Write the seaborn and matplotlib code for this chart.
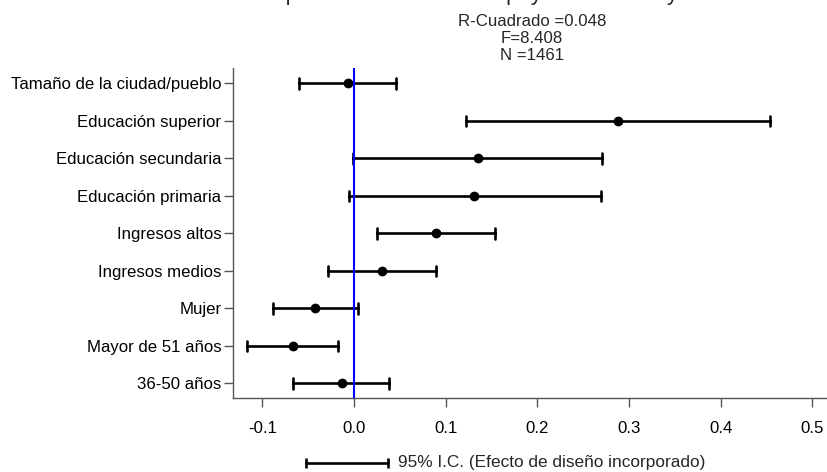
import matplotlib
matplotlib.use("Agg")
import matplotlib.pyplot as plt
from matplotlib.lines import Line2D
import pandas as pd
import seaborn as sns

# Coefficients and 95% CIs
labels = ["Tamaño de la ciudad/pueblo", "Educación superior", "Educación secundaria",
          "Educación primaria", "Ingresos altos", "Ingresos medios", "Mujer",
          "Mayor de 51 años", "36-50 años"]
coef = [-0.007, 0.288, 0.135, 0.131, 0.089, 0.030, -0.043, -0.067, -0.013]
lower = [-0.060, 0.122, -0.001, -0.006, 0.025, -0.028, -0.088, -0.117, -0.067]
upper = [0.046, 0.454, 0.271, 0.269, 0.154, 0.089, 0.004, -0.017, 0.038]
xticks = [-0.1, 0.0, 0.1, 0.2, 0.3, 0.4, 0.5]
stats_text = "R-Cuadrado =0.048\nF=8.408\nN =1461"
title = "Impacto de factores en apoyo al sistema y la confianza"
legend_text = "95% I.C. (Efecto de diseño incorporado)"

# long table: lower / estimate / upper per row, so median = estimate and
# the 100% percentile interval = the CI
rows = []
for lab, lo, c, hi in zip(labels, lower, coef, upper):
    for v in (lo, c, hi):
        rows.append({"variable": lab, "valor": v})
df = pd.DataFrame(rows)

sns.set_style("white")
plt.rcParams["font.family"] = ["Liberation Sans", "DejaVu Sans"]
fs = 12.1

fig = plt.figure(figsize=(8.28, 4.72), dpi=100)
ax = fig.add_axes([0.2814, 0.1561, 0.7186, 0.6992])

sns.pointplot(data=df, x="valor", y="variable", order=labels,
              estimator="median", errorbar=("pi", 100),
              color="black", linestyle="none", marker="o", markersize=5,
              capsize=0.28, err_kws={"linewidth": 1.9}, ax=ax)

ax.axvline(0, color="#0000ff", lw=1.5, zorder=5)

ax.set_xlim(-0.132, 0.517)
ax.set_ylim(8.4, -0.4)
ax.set_xticks(xticks)
ax.set_xticklabels([f"{t:.1f}" for t in xticks])
ax.set_xlabel("")
ax.set_ylabel("")
ax.tick_params(axis="both", labelsize=fs, length=6.3, width=1, color="#555555",
               labelcolor="black", bottom=True, left=True)
ax.tick_params(axis="x", pad=10)
ax.tick_params(axis="y", pad=2)
for side in ["top", "right"]:
    ax.spines[side].set_visible(False)
for side in ["left", "bottom"]:
    ax.spines[side].set_color("#555555")
    ax.spines[side].set_linewidth(1)

# header (title sits mostly above the top edge, as in the reference)
fig.text(0.6425, 1.0, title, ha="center", va="baseline", fontsize=16)
fig.text(0.6425, 1 - 38.5 / 472, stats_text, ha="center", va="center",
         fontsize=fs, linespacing=1.2)

# CI legend at the bottom
y_leg = 1 - 463 / 472
fig.add_artist(Line2D([306 / 828, 388 / 828], [y_leg, y_leg], color="black", lw=1.9,
                      transform=fig.transFigure))
fig.add_artist(Line2D([306 / 828, 388 / 828], [y_leg, y_leg], color="black", lw=0,
                      marker="|", markersize=7.7, markeredgewidth=1.9,
                      transform=fig.transFigure))
fig.text(398 / 828, y_leg, legend_text, ha="left", va="center", fontsize=12.4)

fig.savefig("out.png", dpi=100)
